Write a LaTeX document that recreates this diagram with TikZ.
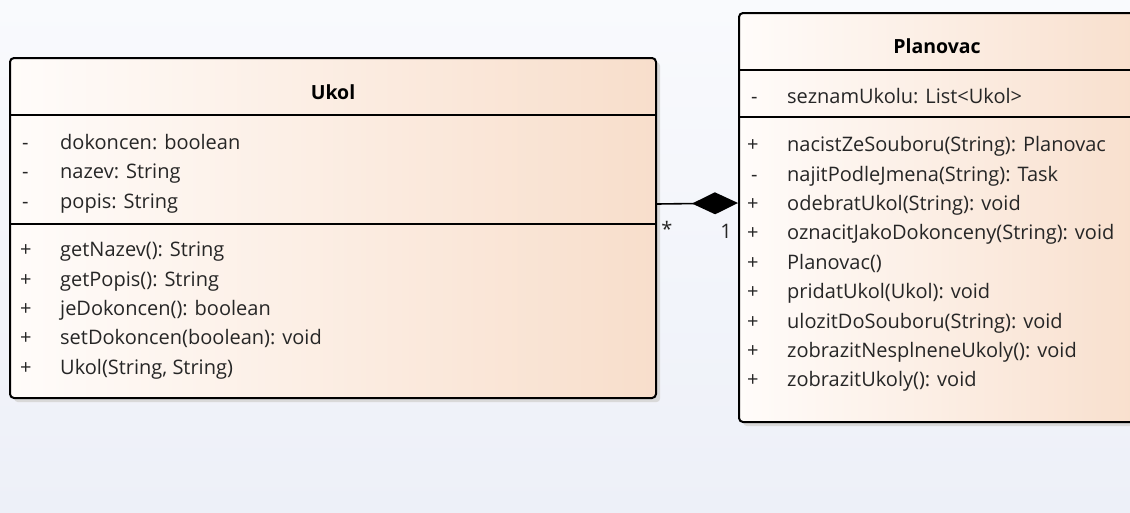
\documentclass[tikz,border=0pt]{standalone}
\usepackage{fontspec}
\setmainfont{Open Sans}
\usetikzlibrary{arrows.meta,calc}
\definecolor{bgtop}{HTML}{F9FAFD}
\definecolor{bgbot}{HTML}{EDF0F8}
\definecolor{boxl}{HTML}{FFFCFA}
\definecolor{boxr}{HTML}{F8DECB}
\definecolor{txt}{HTML}{262626}
\tikzset{
  umlbox/.style={draw=black, line width=2pt, rounded corners=4pt, left color=boxl, right color=boxr, inner sep=0pt, anchor=north west},
  shadowbox/.style={fill=black!15, rounded corners=4pt, draw=none, inner sep=0pt, anchor=north west},
  divider/.style={draw=black, line width=1.8pt},
  vis/.style={anchor=base west, inner sep=0pt, font=\fontsize{20}{24}\selectfont, text=txt},
  member/.style={anchor=base west, inner sep=0pt, font=\fontsize{20}{24}\selectfont, text=txt},
  title/.style={anchor=base, inner sep=0pt, font=\fontsize{19.5}{24}\selectfont\bfseries, text=black},
  mult/.style={anchor=center, inner sep=0pt, font=\fontsize{20}{24}\selectfont, text=txt},
  comp/.style={draw=black, line width=1.6pt, -{Diamond[length=46pt, width=22pt, fill=black]}}
}
\begin{document}
\begin{tikzpicture}[x=1pt,y=-1pt]
\clip (0,0) rectangle (1130,512);
\fill[top color=bgtop, bottom color=bgbot] (0,0) rectangle (1130,512);
% shadows
\node[shadowbox, minimum width=646pt, minimum height=340pt] (ukolsh) at (14,62) {};
\node[shadowbox, minimum width=420pt, minimum height=409pt] (plansh) at (743,17) {};
% Ukol
\node[umlbox, minimum width=646pt, minimum height=340pt] (ukol) at (9,57) {};
\draw[divider] (ukol.north west |- 0,115) -- (ukol.north east |- 0,115);
\draw[divider] (ukol.north west |- 0,224) -- (ukol.north east |- 0,224);
\node[title] (ukolt) at (333,99) {Ukol};
\node[vis] (ua1v) at (22,149) {-};
\node[member] (ua1) at (60,149) {dokoncen: boolean};
\node[vis] (ua2v) at (22,178) {-};
\node[member] (ua2) at (60,178) {nazev: String};
\node[vis] (ua3v) at (22,208) {-};
\node[member] (ua3) at (60,208) {popis: String};
\node[vis] (uo1v) at (20,256) {+};
\node[member] (uo1) at (60,256) {getNazev(): String};
\node[vis] (uo2v) at (20,286) {+};
\node[member] (uo2) at (60,286) {getPopis(): String};
\node[vis] (uo3v) at (20,315) {+};
\node[member] (uo3) at (60,315) {jeDokoncen(): boolean};
\node[vis] (uo4v) at (20,344) {+};
\node[member] (uo4) at (60,344) {setDokoncen(boolean): void};
\node[vis] (uo5v) at (20,374) {+};
\node[member] (uo5) at (60,374) {Ukol(String, String)};
% Planovac
\node[umlbox, minimum width=420pt, minimum height=409pt] (plan) at (738,12) {};
\draw[divider] (plan.north west |- 0,70) -- (plan.north east |- 0,70);
\draw[divider] (plan.north west |- 0,117) -- (plan.north east |- 0,117);
\node[title] (plant) at (937,53) {Planovac};
\node[vis] (pa1v) at (751,103) {-};
\node[member] (pa1) at (787,103) {seznamUkolu: List<Ukol>};
\node[vis] (po1v) at (747,151) {+};
\node[member] (po1) at (787,151) {nacistZeSouboru(String): Planovac};
\node[vis] (po2v) at (751,181) {-};
\node[member] (po2) at (787,181) {najitPodleJmena(String): Task};
\node[vis] (po3v) at (747,210) {+};
\node[member] (po3) at (787,210) {odebratUkol(String): void};
\node[vis] (po4v) at (747,239) {+};
\node[member] (po4) at (787,239) {oznacitJakoDokonceny(String): void};
\node[vis] (po5v) at (747,269) {+};
\node[member] (po5) at (787,269) {Planovac()};
\node[vis] (po6v) at (747,298) {+};
\node[member] (po6) at (787,298) {pridatUkol(Ukol): void};
\node[vis] (po7v) at (747,328) {+};
\node[member] (po7) at (787,328) {ulozitDoSouboru(String): void};
\node[vis] (po8v) at (747,357) {+};
\node[member] (po8) at (787,357) {zobrazitNesplneneUkoly(): void};
\node[vis] (po9v) at (747,386) {+};
\node[member] (po9) at (787,386) {zobrazitUkoly(): void};
% composition
\draw[comp] ([yshift=-147pt]ukol.north east) -- ([yshift=-191pt]plan.north west);
\node[mult] (m1) at (667,229) {*};
\node[mult] (m2) at (726,231) {1};
\end{tikzpicture}
\end{document}
